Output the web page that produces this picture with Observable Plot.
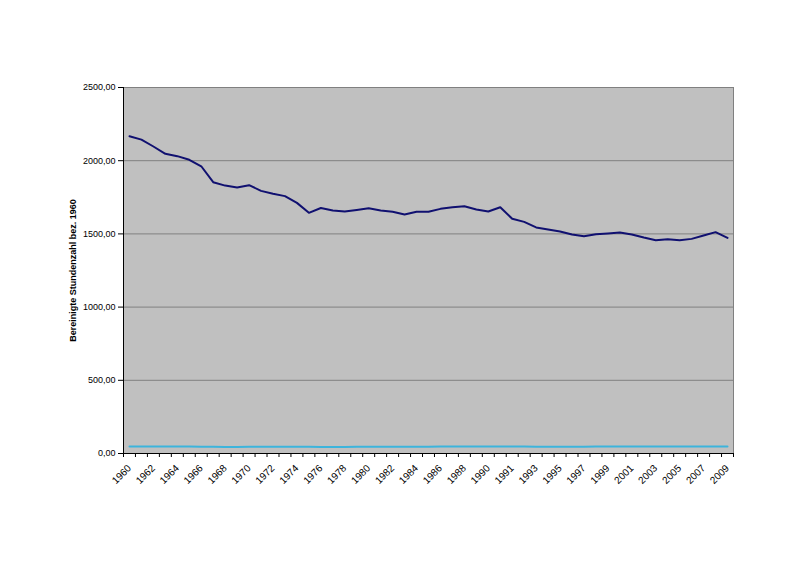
<!DOCTYPE html>
<html>
<head>
<meta charset="utf-8">
<script src="https://cdn.jsdelivr.net/npm/d3@7"></script>
<script src="https://cdn.jsdelivr.net/npm/@observablehq/plot@0.6"></script>
<style>
  html, body { margin: 0; padding: 0; background: #ffffff; }
  #chart { width: 800px; height: 566px; }
</style>
</head>
<body>
<div id="chart"></div>
<script>
// Category labels (1991 appears twice in the source table)
const years = ["1960","1961","1962","1963","1964","1965","1966","1967","1968","1969",
  "1970","1971","1972","1973","1974","1975","1976","1977","1978","1979",
  "1980","1981","1982","1983","1984","1985","1986","1987","1988","1989",
  "1990","1991","1991","1992","1993","1994","1995","1996","1997","1998",
  "1999","2000","2001","2002","2003","2004","2005","2006","2007","2008","2009"];

// Series 1: adjusted hours (dark blue)
const hours = [2167,2144,2097,2047,2031,2006,1962,1853,1830,1817,
  1833,1794,1774,1758,1712,1644,1677,1660,1653,1664,
  1675,1660,1651,1632,1651,1651,1671,1682,1689,1667,
  1653,1682,1603,1582,1544,1530,1516,1496,1484,1498,
  1503,1509,1496,1475,1457,1464,1457,1466,1489,1512,1473];

// Series 2: light blue, near the bottom
const base = [48,48,48,47,47,47,46,46,45,45,
  46,46,46,46,46,46,45,45,45,46,
  46,46,46,46,46,46,47,47,47,47,
  47,47,47,47,46,46,46,46,46,47,
  47,47,47,47,47,47,47,47,47,47,47];

const yTicks = [0, 500, 1000, 1500, 2000, 2500];

const s1 = hours.map((v, i) => ({i, v}));
const s2 = base.map((v, i) => ({i, v}));
const labelIdx = d3.range(0, years.length, 2);
const boundaries = d3.range(-0.5, years.length, 1);
const fmt = v => d3.format(".2f")(v).replace(".", ",");

const chart = Plot.plot({
  width: 800,
  height: 566,
  marginLeft: 123,
  marginRight: 67,
  marginTop: 87,
  marginBottom: 113,
  style: {fontFamily: "Liberation Sans, Arial, sans-serif", background: "#ffffff", overflow: "visible"},
  x: {type: "linear", domain: [-0.5, years.length - 0.5], axis: null},
  y: {type: "linear", domain: [0, 2500], axis: null},
  marks: [
    Plot.frame({fill: "#c0c0c0", stroke: "#808080"}),
    Plot.ruleY(yTicks.filter(d => d > 0), {stroke: "#808080", strokeWidth: 1}),
    Plot.line(s2, {x: "i", y: "v", stroke: "#3cb4dc", strokeWidth: 2}),
    Plot.line(s1, {x: "i", y: "v", stroke: "#101070", strokeWidth: 2}),
    Plot.axisY({ticks: yTicks, tickFormat: fmt, tickSize: 5, tickPadding: 3, fontSize: 9, stroke: "#000", color: "#000", label: null}),
    Plot.axisX({ticks: boundaries, tickFormat: () => "", tickSize: 4, stroke: "#000", label: null}),
    Plot.axisX({ticks: labelIdx, tickFormat: i => years[i], tickSize: 0, tickPadding: 13, tickRotate: -45, fontSize: 10, color: "#000", label: null}),
    Plot.ruleX([-0.5], {stroke: "#000", strokeWidth: 1}),
    Plot.ruleY([0], {stroke: "#000", strokeWidth: 1}),
    Plot.text(["Bereinigte Stundenzahl bez. 1960"], {
      frameAnchor: "left", textAnchor: "middle", dx: -50, rotate: -90, fontSize: 9, fontWeight: "bold", fill: "#000"
    })
  ]
});
document.getElementById("chart").appendChild(chart);
</script>
</body>
</html>
